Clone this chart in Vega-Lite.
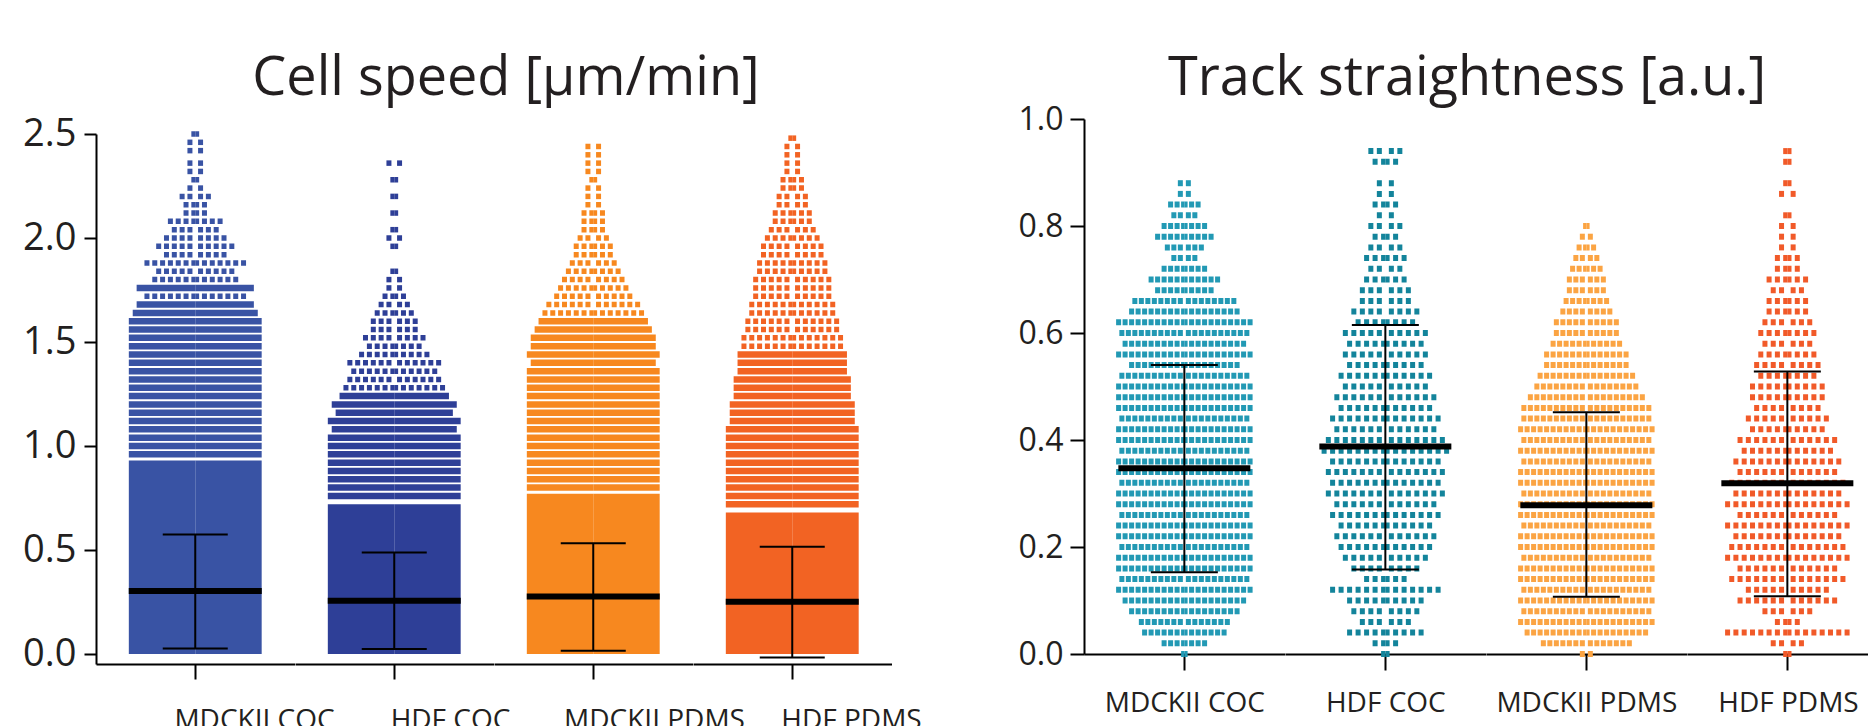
{
"$schema": "https://vega.github.io/schema/vega-lite/v6.json",
"autosize": {"type": "pad"},
"padding": {"left": 22, "top": 52, "right": 0, "bottom": -8},
"bounds": "flush",
"spacing": 0,
"resolve": {"scale": {"color": "independent"}},
"config": {"view": {"stroke": null}, "font": "Open Sans", "axis": {"grid": false, "domainColor": "#000", "tickColor": "#000", "domainWidth": 2, "tickWidth": 2, "labelColor": "#231F20", "labelFont": "Open Sans"}},
"datasets": {
"L": [
{"g":"MDCKII COC","k":"block","lo":0,"hi":0.93,"n":17},
{"g":"HDF COC","k":"block","lo":0,"hi":0.72,"n":17},
{"g":"MDCKII PDMS","k":"block","lo":0,"hi":0.77,"n":17},
{"g":"HDF PDMS","k":"block","lo":0,"hi":0.68,"n":17},
{"g":"MDCKII COC","k":"stat","v":0.303,"lo":0.027,"hi":0.575},
{"g":"HDF COC","k":"stat","v":0.256,"lo":0.024,"hi":0.488},
{"g":"MDCKII PDMS","k":"stat","v":0.277,"lo":0.016,"hi":0.532},
{"g":"HDF PDMS","k":"stat","v":0.251,"lo":-0.017,"hi":0.516},
{"g":"MDCKII COC","k":"row","v":0.96,"n":17},{"g":"MDCKII COC","k":"row","v":1.0,"n":17},{"g":"MDCKII COC","k":"row","v":1.04,"n":17},{"g":"MDCKII COC","k":"row","v":1.08,"n":17},{"g":"MDCKII COC","k":"row","v":1.12,"n":17},{"g":"MDCKII COC","k":"row","v":1.16,"n":17},{"g":"MDCKII COC","k":"row","v":1.2,"n":17},{"g":"MDCKII COC","k":"row","v":1.24,"n":17},{"g":"MDCKII COC","k":"row","v":1.28,"n":17},{"g":"MDCKII COC","k":"row","v":1.32,"n":17},{"g":"MDCKII COC","k":"row","v":1.36,"n":17},{"g":"MDCKII COC","k":"row","v":1.4,"n":17},{"g":"MDCKII COC","k":"row","v":1.44,"n":17},{"g":"MDCKII COC","k":"row","v":1.48,"n":17},{"g":"MDCKII COC","k":"row","v":1.52,"n":17},{"g":"MDCKII COC","k":"row","v":1.56,"n":17},{"g":"MDCKII COC","k":"row","v":1.6,"n":17},{"g":"MDCKII COC","k":"row","v":1.64,"n":16},{"g":"MDCKII COC","k":"row","v":1.68,"n":15},{"g":"MDCKII COC","k":"row","v":1.72,"n":13},{"g":"MDCKII COC","k":"row","v":1.76,"n":15},{"g":"MDCKII COC","k":"row","v":1.8,"n":11},{"g":"MDCKII COC","k":"row","v":1.84,"n":10},{"g":"MDCKII COC","k":"row","v":1.88,"n":13},{"g":"MDCKII COC","k":"row","v":1.92,"n":8},{"g":"MDCKII COC","k":"row","v":1.96,"n":10},{"g":"MDCKII COC","k":"row","v":2.0,"n":8},{"g":"MDCKII COC","k":"row","v":2.04,"n":6},{"g":"MDCKII COC","k":"row","v":2.08,"n":7},{"g":"MDCKII COC","k":"row","v":2.12,"n":3},{"g":"MDCKII COC","k":"row","v":2.16,"n":3},{"g":"MDCKII COC","k":"row","v":2.2,"n":4},{"g":"MDCKII COC","k":"row","v":2.24,"n":2},{"g":"MDCKII COC","k":"row","v":2.28,"n":1},{"g":"MDCKII COC","k":"row","v":2.32,"n":2},{"g":"MDCKII COC","k":"row","v":2.36,"n":2},{"g":"MDCKII COC","k":"row","v":2.42,"n":2},{"g":"MDCKII COC","k":"row","v":2.46,"n":2},{"g":"MDCKII COC","k":"row","v":2.5,"n":1},
{"g":"HDF COC","k":"row","v":0.76,"n":17},{"g":"HDF COC","k":"row","v":0.8,"n":17},{"g":"HDF COC","k":"row","v":0.84,"n":17},{"g":"HDF COC","k":"row","v":0.88,"n":17},{"g":"HDF COC","k":"row","v":0.92,"n":17},{"g":"HDF COC","k":"row","v":0.96,"n":17},{"g":"HDF COC","k":"row","v":1.0,"n":17},{"g":"HDF COC","k":"row","v":1.04,"n":17},{"g":"HDF COC","k":"row","v":1.08,"n":16},{"g":"HDF COC","k":"row","v":1.12,"n":17},{"g":"HDF COC","k":"row","v":1.16,"n":15},{"g":"HDF COC","k":"row","v":1.2,"n":16},{"g":"HDF COC","k":"row","v":1.24,"n":14},{"g":"HDF COC","k":"row","v":1.28,"n":13},{"g":"HDF COC","k":"row","v":1.32,"n":12},{"g":"HDF COC","k":"row","v":1.36,"n":11},{"g":"HDF COC","k":"row","v":1.4,"n":12},{"g":"HDF COC","k":"row","v":1.44,"n":9},{"g":"HDF COC","k":"row","v":1.48,"n":7},{"g":"HDF COC","k":"row","v":1.52,"n":8},{"g":"HDF COC","k":"row","v":1.56,"n":6},{"g":"HDF COC","k":"row","v":1.6,"n":6},{"g":"HDF COC","k":"row","v":1.64,"n":5},{"g":"HDF COC","k":"row","v":1.68,"n":4},{"g":"HDF COC","k":"row","v":1.72,"n":3},{"g":"HDF COC","k":"row","v":1.76,"n":2},{"g":"HDF COC","k":"row","v":1.8,"n":2},{"g":"HDF COC","k":"row","v":1.84,"n":1},{"g":"HDF COC","k":"row","v":1.96,"n":1},{"g":"HDF COC","k":"row","v":2.0,"n":2},{"g":"HDF COC","k":"row","v":2.04,"n":1},{"g":"HDF COC","k":"row","v":2.12,"n":1},{"g":"HDF COC","k":"row","v":2.2,"n":1},{"g":"HDF COC","k":"row","v":2.28,"n":1},{"g":"HDF COC","k":"row","v":2.36,"n":2},
{"g":"MDCKII PDMS","k":"row","v":0.8,"n":17},{"g":"MDCKII PDMS","k":"row","v":0.84,"n":17},{"g":"MDCKII PDMS","k":"row","v":0.88,"n":17},{"g":"MDCKII PDMS","k":"row","v":0.92,"n":17},{"g":"MDCKII PDMS","k":"row","v":0.96,"n":17},{"g":"MDCKII PDMS","k":"row","v":1.0,"n":17},{"g":"MDCKII PDMS","k":"row","v":1.04,"n":17},{"g":"MDCKII PDMS","k":"row","v":1.08,"n":17},{"g":"MDCKII PDMS","k":"row","v":1.12,"n":17},{"g":"MDCKII PDMS","k":"row","v":1.16,"n":17},{"g":"MDCKII PDMS","k":"row","v":1.2,"n":17},{"g":"MDCKII PDMS","k":"row","v":1.24,"n":17},{"g":"MDCKII PDMS","k":"row","v":1.28,"n":17},{"g":"MDCKII PDMS","k":"row","v":1.32,"n":17},{"g":"MDCKII PDMS","k":"row","v":1.36,"n":17},{"g":"MDCKII PDMS","k":"row","v":1.4,"n":16},{"g":"MDCKII PDMS","k":"row","v":1.44,"n":17},{"g":"MDCKII PDMS","k":"row","v":1.48,"n":16},{"g":"MDCKII PDMS","k":"row","v":1.52,"n":16},{"g":"MDCKII PDMS","k":"row","v":1.56,"n":15},{"g":"MDCKII PDMS","k":"row","v":1.6,"n":14},{"g":"MDCKII PDMS","k":"row","v":1.64,"n":13},{"g":"MDCKII PDMS","k":"row","v":1.68,"n":12},{"g":"MDCKII PDMS","k":"row","v":1.72,"n":10},{"g":"MDCKII PDMS","k":"row","v":1.76,"n":9},{"g":"MDCKII PDMS","k":"row","v":1.8,"n":8},{"g":"MDCKII PDMS","k":"row","v":1.84,"n":7},{"g":"MDCKII PDMS","k":"row","v":1.88,"n":6},{"g":"MDCKII PDMS","k":"row","v":1.92,"n":5},{"g":"MDCKII PDMS","k":"row","v":1.96,"n":5},{"g":"MDCKII PDMS","k":"row","v":2.0,"n":4},{"g":"MDCKII PDMS","k":"row","v":2.04,"n":3},{"g":"MDCKII PDMS","k":"row","v":2.08,"n":3},{"g":"MDCKII PDMS","k":"row","v":2.12,"n":3},{"g":"MDCKII PDMS","k":"row","v":2.16,"n":2},{"g":"MDCKII PDMS","k":"row","v":2.2,"n":2},{"g":"MDCKII PDMS","k":"row","v":2.24,"n":2},{"g":"MDCKII PDMS","k":"row","v":2.28,"n":1},{"g":"MDCKII PDMS","k":"row","v":2.32,"n":2},{"g":"MDCKII PDMS","k":"row","v":2.36,"n":2},{"g":"MDCKII PDMS","k":"row","v":2.4,"n":2},{"g":"MDCKII PDMS","k":"row","v":2.44,"n":2},
{"g":"HDF PDMS","k":"row","v":0.72,"n":17},{"g":"HDF PDMS","k":"row","v":0.76,"n":17},{"g":"HDF PDMS","k":"row","v":0.8,"n":17},{"g":"HDF PDMS","k":"row","v":0.84,"n":17},{"g":"HDF PDMS","k":"row","v":0.88,"n":17},{"g":"HDF PDMS","k":"row","v":0.92,"n":17},{"g":"HDF PDMS","k":"row","v":0.96,"n":17},{"g":"HDF PDMS","k":"row","v":1.0,"n":17},{"g":"HDF PDMS","k":"row","v":1.04,"n":17},{"g":"HDF PDMS","k":"row","v":1.08,"n":17},{"g":"HDF PDMS","k":"row","v":1.12,"n":16},{"g":"HDF PDMS","k":"row","v":1.16,"n":16},{"g":"HDF PDMS","k":"row","v":1.2,"n":16},{"g":"HDF PDMS","k":"row","v":1.24,"n":15},{"g":"HDF PDMS","k":"row","v":1.28,"n":15},{"g":"HDF PDMS","k":"row","v":1.32,"n":15},{"g":"HDF PDMS","k":"row","v":1.36,"n":14},{"g":"HDF PDMS","k":"row","v":1.4,"n":14},{"g":"HDF PDMS","k":"row","v":1.44,"n":14},{"g":"HDF PDMS","k":"row","v":1.48,"n":13},{"g":"HDF PDMS","k":"row","v":1.52,"n":13},{"g":"HDF PDMS","k":"row","v":1.56,"n":12},{"g":"HDF PDMS","k":"row","v":1.6,"n":12},{"g":"HDF PDMS","k":"row","v":1.64,"n":11},{"g":"HDF PDMS","k":"row","v":1.68,"n":11},{"g":"HDF PDMS","k":"row","v":1.72,"n":10},{"g":"HDF PDMS","k":"row","v":1.76,"n":10},{"g":"HDF PDMS","k":"row","v":1.8,"n":10},{"g":"HDF PDMS","k":"row","v":1.84,"n":9},{"g":"HDF PDMS","k":"row","v":1.88,"n":9},{"g":"HDF PDMS","k":"row","v":1.92,"n":8},{"g":"HDF PDMS","k":"row","v":1.96,"n":8},{"g":"HDF PDMS","k":"row","v":2.0,"n":7},{"g":"HDF PDMS","k":"row","v":2.04,"n":6},{"g":"HDF PDMS","k":"row","v":2.08,"n":5},{"g":"HDF PDMS","k":"row","v":2.12,"n":5},{"g":"HDF PDMS","k":"row","v":2.16,"n":4},{"g":"HDF PDMS","k":"row","v":2.2,"n":4},{"g":"HDF PDMS","k":"row","v":2.24,"n":3},{"g":"HDF PDMS","k":"row","v":2.28,"n":3},{"g":"HDF PDMS","k":"row","v":2.32,"n":2},{"g":"HDF PDMS","k":"row","v":2.36,"n":2},{"g":"HDF PDMS","k":"row","v":2.4,"n":2},{"g":"HDF PDMS","k":"row","v":2.44,"n":2},{"g":"HDF PDMS","k":"row","v":2.48,"n":1}
],
"R": [
{"g":"MDCKII COC","k":"stat","v":0.347,"lo":0.153,"hi":0.54},
{"g":"HDF COC","k":"stat","v":0.388,"lo":0.158,"hi":0.615},
{"g":"MDCKII PDMS","k":"stat","v":0.278,"lo":0.107,"hi":0.452},
{"g":"HDF PDMS","k":"stat","v":0.319,"lo":0.108,"hi":0.528},
{"g":"MDCKII COC","k":"row","v":0.0,"n":1},{"g":"MDCKII COC","k":"row","v":0.02,"n":7},{"g":"MDCKII COC","k":"row","v":0.04,"n":13},{"g":"MDCKII COC","k":"row","v":0.06,"n":14},{"g":"MDCKII COC","k":"row","v":0.08,"n":17},{"g":"MDCKII COC","k":"row","v":0.1,"n":19},{"g":"MDCKII COC","k":"row","v":0.12,"n":21},{"g":"MDCKII COC","k":"row","v":0.14,"n":20},{"g":"MDCKII COC","k":"row","v":0.16,"n":21},{"g":"MDCKII COC","k":"row","v":0.18,"n":21},{"g":"MDCKII COC","k":"row","v":0.2,"n":20},{"g":"MDCKII COC","k":"row","v":0.22,"n":21},{"g":"MDCKII COC","k":"row","v":0.24,"n":21},{"g":"MDCKII COC","k":"row","v":0.26,"n":20},{"g":"MDCKII COC","k":"row","v":0.28,"n":21},{"g":"MDCKII COC","k":"row","v":0.3,"n":21},{"g":"MDCKII COC","k":"row","v":0.32,"n":20},{"g":"MDCKII COC","k":"row","v":0.34,"n":21},{"g":"MDCKII COC","k":"row","v":0.36,"n":21},{"g":"MDCKII COC","k":"row","v":0.38,"n":20},{"g":"MDCKII COC","k":"row","v":0.4,"n":21},{"g":"MDCKII COC","k":"row","v":0.42,"n":21},{"g":"MDCKII COC","k":"row","v":0.44,"n":20},{"g":"MDCKII COC","k":"row","v":0.46,"n":21},{"g":"MDCKII COC","k":"row","v":0.48,"n":21},{"g":"MDCKII COC","k":"row","v":0.5,"n":21},{"g":"MDCKII COC","k":"row","v":0.52,"n":20},{"g":"MDCKII COC","k":"row","v":0.54,"n":17},{"g":"MDCKII COC","k":"row","v":0.56,"n":21},{"g":"MDCKII COC","k":"row","v":0.58,"n":19},{"g":"MDCKII COC","k":"row","v":0.6,"n":20},{"g":"MDCKII COC","k":"row","v":0.62,"n":21},{"g":"MDCKII COC","k":"row","v":0.64,"n":17},{"g":"MDCKII COC","k":"row","v":0.66,"n":16},{"g":"MDCKII COC","k":"row","v":0.68,"n":9},{"g":"MDCKII COC","k":"row","v":0.7,"n":11},{"g":"MDCKII COC","k":"row","v":0.72,"n":7},{"g":"MDCKII COC","k":"row","v":0.74,"n":4},{"g":"MDCKII COC","k":"row","v":0.76,"n":6},{"g":"MDCKII COC","k":"row","v":0.78,"n":9},{"g":"MDCKII COC","k":"row","v":0.8,"n":7},{"g":"MDCKII COC","k":"row","v":0.82,"n":4},{"g":"MDCKII COC","k":"row","v":0.84,"n":5},{"g":"MDCKII COC","k":"row","v":0.86,"n":2},{"g":"MDCKII COC","k":"row","v":0.88,"n":2},
{"g":"HDF COC","k":"row","v":0.0,"n":1},{"g":"HDF COC","k":"row","v":0.02,"n":3},{"g":"HDF COC","k":"row","v":0.04,"n":9},{"g":"HDF COC","k":"row","v":0.06,"n":6},{"g":"HDF COC","k":"row","v":0.08,"n":8},{"g":"HDF COC","k":"row","v":0.1,"n":9},{"g":"HDF COC","k":"row","v":0.12,"n":13},{"g":"HDF COC","k":"row","v":0.14,"n":5},{"g":"HDF COC","k":"row","v":0.16,"n":8},{"g":"HDF COC","k":"row","v":0.18,"n":10},{"g":"HDF COC","k":"row","v":0.2,"n":11},{"g":"HDF COC","k":"row","v":0.22,"n":12},{"g":"HDF COC","k":"row","v":0.24,"n":11},{"g":"HDF COC","k":"row","v":0.26,"n":13},{"g":"HDF COC","k":"row","v":0.28,"n":12},{"g":"HDF COC","k":"row","v":0.3,"n":14},{"g":"HDF COC","k":"row","v":0.32,"n":13},{"g":"HDF COC","k":"row","v":0.34,"n":14},{"g":"HDF COC","k":"row","v":0.36,"n":13},{"g":"HDF COC","k":"row","v":0.38,"n":15},{"g":"HDF COC","k":"row","v":0.4,"n":14},{"g":"HDF COC","k":"row","v":0.42,"n":12},{"g":"HDF COC","k":"row","v":0.44,"n":13},{"g":"HDF COC","k":"row","v":0.46,"n":11},{"g":"HDF COC","k":"row","v":0.48,"n":12},{"g":"HDF COC","k":"row","v":0.5,"n":10},{"g":"HDF COC","k":"row","v":0.52,"n":11},{"g":"HDF COC","k":"row","v":0.54,"n":9},{"g":"HDF COC","k":"row","v":0.56,"n":10},{"g":"HDF COC","k":"row","v":0.58,"n":9},{"g":"HDF COC","k":"row","v":0.6,"n":10},{"g":"HDF COC","k":"row","v":0.62,"n":7},{"g":"HDF COC","k":"row","v":0.64,"n":8},{"g":"HDF COC","k":"row","v":0.66,"n":6},{"g":"HDF COC","k":"row","v":0.68,"n":6},{"g":"HDF COC","k":"row","v":0.7,"n":5},{"g":"HDF COC","k":"row","v":0.72,"n":4},{"g":"HDF COC","k":"row","v":0.74,"n":5},{"g":"HDF COC","k":"row","v":0.76,"n":4},{"g":"HDF COC","k":"row","v":0.78,"n":3},{"g":"HDF COC","k":"row","v":0.8,"n":4},{"g":"HDF COC","k":"row","v":0.82,"n":2},{"g":"HDF COC","k":"row","v":0.84,"n":3},{"g":"HDF COC","k":"row","v":0.86,"n":2},{"g":"HDF COC","k":"row","v":0.88,"n":2},{"g":"HDF COC","k":"row","v":0.92,"n":3},{"g":"HDF COC","k":"row","v":0.94,"n":4},
{"g":"MDCKII PDMS","k":"row","v":0.0,"n":2},{"g":"MDCKII PDMS","k":"row","v":0.02,"n":14},{"g":"MDCKII PDMS","k":"row","v":0.04,"n":19},{"g":"MDCKII PDMS","k":"row","v":0.06,"n":21},{"g":"MDCKII PDMS","k":"row","v":0.08,"n":20},{"g":"MDCKII PDMS","k":"row","v":0.1,"n":21},{"g":"MDCKII PDMS","k":"row","v":0.12,"n":20},{"g":"MDCKII PDMS","k":"row","v":0.14,"n":21},{"g":"MDCKII PDMS","k":"row","v":0.16,"n":21},{"g":"MDCKII PDMS","k":"row","v":0.18,"n":20},{"g":"MDCKII PDMS","k":"row","v":0.2,"n":21},{"g":"MDCKII PDMS","k":"row","v":0.22,"n":21},{"g":"MDCKII PDMS","k":"row","v":0.24,"n":20},{"g":"MDCKII PDMS","k":"row","v":0.26,"n":21},{"g":"MDCKII PDMS","k":"row","v":0.28,"n":21},{"g":"MDCKII PDMS","k":"row","v":0.3,"n":20},{"g":"MDCKII PDMS","k":"row","v":0.32,"n":21},{"g":"MDCKII PDMS","k":"row","v":0.34,"n":21},{"g":"MDCKII PDMS","k":"row","v":0.36,"n":20},{"g":"MDCKII PDMS","k":"row","v":0.38,"n":21},{"g":"MDCKII PDMS","k":"row","v":0.4,"n":20},{"g":"MDCKII PDMS","k":"row","v":0.42,"n":21},{"g":"MDCKII PDMS","k":"row","v":0.44,"n":20},{"g":"MDCKII PDMS","k":"row","v":0.46,"n":20},{"g":"MDCKII PDMS","k":"row","v":0.48,"n":18},{"g":"MDCKII PDMS","k":"row","v":0.5,"n":16},{"g":"MDCKII PDMS","k":"row","v":0.52,"n":15},{"g":"MDCKII PDMS","k":"row","v":0.54,"n":13},{"g":"MDCKII PDMS","k":"row","v":0.56,"n":13},{"g":"MDCKII PDMS","k":"row","v":0.58,"n":11},{"g":"MDCKII PDMS","k":"row","v":0.6,"n":10},{"g":"MDCKII PDMS","k":"row","v":0.62,"n":10},{"g":"MDCKII PDMS","k":"row","v":0.64,"n":8},{"g":"MDCKII PDMS","k":"row","v":0.66,"n":7},{"g":"MDCKII PDMS","k":"row","v":0.68,"n":6},{"g":"MDCKII PDMS","k":"row","v":0.7,"n":6},{"g":"MDCKII PDMS","k":"row","v":0.72,"n":5},{"g":"MDCKII PDMS","k":"row","v":0.74,"n":4},{"g":"MDCKII PDMS","k":"row","v":0.76,"n":3},{"g":"MDCKII PDMS","k":"row","v":0.78,"n":2},{"g":"MDCKII PDMS","k":"row","v":0.8,"n":1},
{"g":"HDF PDMS","k":"row","v":0.0,"n":1},{"g":"HDF PDMS","k":"row","v":0.02,"n":4},{"g":"HDF PDMS","k":"row","v":0.04,"n":15},{"g":"HDF PDMS","k":"row","v":0.06,"n":3},{"g":"HDF PDMS","k":"row","v":0.08,"n":6},{"g":"HDF PDMS","k":"row","v":0.1,"n":12},{"g":"HDF PDMS","k":"row","v":0.12,"n":10},{"g":"HDF PDMS","k":"row","v":0.14,"n":14},{"g":"HDF PDMS","k":"row","v":0.16,"n":12},{"g":"HDF PDMS","k":"row","v":0.18,"n":15},{"g":"HDF PDMS","k":"row","v":0.2,"n":14},{"g":"HDF PDMS","k":"row","v":0.22,"n":13},{"g":"HDF PDMS","k":"row","v":0.24,"n":15},{"g":"HDF PDMS","k":"row","v":0.26,"n":12},{"g":"HDF PDMS","k":"row","v":0.28,"n":15},{"g":"HDF PDMS","k":"row","v":0.3,"n":13},{"g":"HDF PDMS","k":"row","v":0.32,"n":14},{"g":"HDF PDMS","k":"row","v":0.34,"n":12},{"g":"HDF PDMS","k":"row","v":0.36,"n":13},{"g":"HDF PDMS","k":"row","v":0.38,"n":11},{"g":"HDF PDMS","k":"row","v":0.4,"n":12},{"g":"HDF PDMS","k":"row","v":0.42,"n":9},{"g":"HDF PDMS","k":"row","v":0.44,"n":10},{"g":"HDF PDMS","k":"row","v":0.46,"n":8},{"g":"HDF PDMS","k":"row","v":0.48,"n":9},{"g":"HDF PDMS","k":"row","v":0.5,"n":9},{"g":"HDF PDMS","k":"row","v":0.52,"n":7},{"g":"HDF PDMS","k":"row","v":0.54,"n":8},{"g":"HDF PDMS","k":"row","v":0.56,"n":7},{"g":"HDF PDMS","k":"row","v":0.58,"n":6},{"g":"HDF PDMS","k":"row","v":0.6,"n":7},{"g":"HDF PDMS","k":"row","v":0.62,"n":6},{"g":"HDF PDMS","k":"row","v":0.64,"n":5},{"g":"HDF PDMS","k":"row","v":0.66,"n":5},{"g":"HDF PDMS","k":"row","v":0.68,"n":4},{"g":"HDF PDMS","k":"row","v":0.7,"n":5},{"g":"HDF PDMS","k":"row","v":0.72,"n":3},{"g":"HDF PDMS","k":"row","v":0.74,"n":3},{"g":"HDF PDMS","k":"row","v":0.76,"n":2},{"g":"HDF PDMS","k":"row","v":0.78,"n":2},{"g":"HDF PDMS","k":"row","v":0.8,"n":2},{"g":"HDF PDMS","k":"row","v":0.82,"n":1},{"g":"HDF PDMS","k":"row","v":0.86,"n":2},{"g":"HDF PDMS","k":"row","v":0.88,"n":1},{"g":"HDF PDMS","k":"row","v":0.92,"n":1},{"g":"HDF PDMS","k":"row","v":0.94,"n":1}
]
},
"hconcat": [
 {"data": {"name": "L"}, "transform": [{"filter": "datum.g == 'MDCKII COC'"}], "width": 198.5, "height": 545, "resolve": {"scale": {"x": "independent"}},
  "title": {"text": "Cell speed [µm/min]", "font": "Open Sans", "fontSize": 54, "fontWeight": "normal", "color": "#231F20", "frame": "group", "anchor": "start", "align": "center", "baseline": "alphabetic", "offset": -34, "dx": 410},
  "layer": [
  {"transform": [{"filter": "datum.k == 'block'"}], "mark": {"type": "rect"}, "encoding": {"x": {"field": "n", "type": "quantitative", "scale": {"domain": [-25.4, 25.4], "nice": false, "zero": false}, "axis": {"values": [0], "labels": false, "tickSize": 15, "title": "MDCKII COC", "titleFont": "Open Sans", "titleFontSize": 28, "titleFontWeight": "normal", "titleColor": "#231F20", "titlePadding": 26, "titleX": 158, "titleAlign": "center"}}, "x2": {"datum": 0}, "y": {"field": "lo", "type": "quantitative", "scale": {"domain": [-0.048, 2.5], "range": [545, 15], "nice": false, "zero": false}, "axis": {"values": [0, 0.5, 1, 1.5, 2, 2.5], "format": ".1f", "labelFontSize": 38, "tickSize": 12, "labelPadding": 8, "title": null}}, "y2": {"field": "hi"}, "color": {"field": "g", "type": "nominal", "scale": {"domain": ["MDCKII COC","HDF COC","MDCKII PDMS","HDF PDMS"], "range": ["#3953A4","#2E3F97","#F7881F","#F26323"]}, "legend": null}}},
  {"transform": [{"filter": "datum.k == 'block'"}], "mark": {"type": "rect"}, "encoding": {"x": {"field": "n", "type": "quantitative", "scale": {"domain": [-25.4, 25.4], "nice": false, "zero": false, "reverse": true}, "axis": null}, "x2": {"datum": 0}, "y": {"field": "lo", "type": "quantitative", "axis": {"title": null}}, "y2": {"field": "hi"}, "color": {"field": "g", "type": "nominal", "legend": null}}},
  {"transform": [{"filter": "datum.k == 'row' && datum.n >= 14"}], "mark": {"type": "rule", "strokeWidth": 6.5}, "encoding": {"x": {"field": "n", "type": "quantitative", "scale": {"domain": [-25.4, 25.4], "nice": false, "zero": false}, "axis": null}, "x2": {"datum": 0}, "y": {"field": "v", "type": "quantitative", "axis": {"title": null}}, "color": {"field": "g", "type": "nominal", "legend": null}}},
  {"transform": [{"filter": "datum.k == 'row' && datum.n >= 14"}], "mark": {"type": "rule", "strokeWidth": 6.5}, "encoding": {"x": {"field": "n", "type": "quantitative", "scale": {"domain": [-25.4, 25.4], "nice": false, "zero": false, "reverse": true}, "axis": null}, "x2": {"datum": 0}, "y": {"field": "v", "type": "quantitative", "axis": {"title": null}}, "color": {"field": "g", "type": "nominal", "legend": null}}},
  {"transform": [{"filter": "datum.k == 'row' && datum.n < 14"}], "mark": {"type": "rule", "strokeWidth": 5.5, "strokeDash": [5, 2.82]}, "encoding": {"x": {"field": "n", "type": "quantitative", "scale": {"domain": [-25.4, 25.4], "nice": false, "zero": false}, "axis": null}, "x2": {"datum": 0}, "y": {"field": "v", "type": "quantitative", "axis": {"title": null}}, "color": {"field": "g", "type": "nominal", "legend": null}}},
  {"transform": [{"filter": "datum.k == 'row' && datum.n < 14"}], "mark": {"type": "rule", "strokeWidth": 5.5, "strokeDash": [5, 2.82]}, "encoding": {"x": {"field": "n", "type": "quantitative", "scale": {"domain": [-25.4, 25.4], "nice": false, "zero": false, "reverse": true}, "axis": null}, "x2": {"datum": 0}, "y": {"field": "v", "type": "quantitative", "axis": {"title": null}}, "color": {"field": "g", "type": "nominal", "legend": null}}},
  {"transform": [{"filter": "datum.k == 'stat'"}], "mark": {"type": "rule", "strokeWidth": 2, "color": "#000"}, "encoding": {"y": {"field": "lo", "type": "quantitative", "axis": {"title": null}}, "y2": {"field": "hi"}}},
  {"transform": [{"filter": "datum.k == 'stat'"}], "mark": {"type": "tick", "size": 65, "thickness": 2, "color": "#000", "opacity": 1}, "encoding": {"y": {"field": "lo", "type": "quantitative", "axis": {"title": null}}}},
  {"transform": [{"filter": "datum.k == 'stat'"}], "mark": {"type": "tick", "size": 65, "thickness": 2, "color": "#000", "opacity": 1}, "encoding": {"y": {"field": "hi", "type": "quantitative", "axis": {"title": null}}}},
  {"transform": [{"filter": "datum.k == 'stat'"}], "mark": {"type": "tick", "size": 133, "thickness": 6, "color": "#000", "opacity": 1}, "encoding": {"y": {"field": "v", "type": "quantitative", "axis": {"title": null}}}}
  ]},
 {"data": {"name": "L"}, "transform": [{"filter": "datum.g == 'HDF COC'"}], "width": 198.5, "height": 545, "resolve": {"scale": {"x": "independent"}},
  "layer": [
  {"transform": [{"filter": "datum.k == 'block'"}], "mark": {"type": "rect"}, "encoding": {"x": {"field": "n", "type": "quantitative", "scale": {"domain": [-25.4, 25.4], "nice": false, "zero": false}, "axis": {"values": [0], "labels": false, "tickSize": 15, "title": "HDF COC", "titleFont": "Open Sans", "titleFontSize": 28, "titleFontWeight": "normal", "titleColor": "#231F20", "titlePadding": 26, "titleX": 155, "titleAlign": "center"}}, "x2": {"datum": 0}, "y": {"field": "lo", "type": "quantitative", "scale": {"domain": [-0.048, 2.5], "range": [545, 15], "nice": false, "zero": false}, "axis": null}, "y2": {"field": "hi"}, "color": {"field": "g", "type": "nominal", "scale": {"domain": ["MDCKII COC","HDF COC","MDCKII PDMS","HDF PDMS"], "range": ["#3953A4","#2E3F97","#F7881F","#F26323"]}, "legend": null}}},
  {"transform": [{"filter": "datum.k == 'block'"}], "mark": {"type": "rect"}, "encoding": {"x": {"field": "n", "type": "quantitative", "scale": {"domain": [-25.4, 25.4], "nice": false, "zero": false, "reverse": true}, "axis": null}, "x2": {"datum": 0}, "y": {"field": "lo", "type": "quantitative", "axis": null}, "y2": {"field": "hi"}, "color": {"field": "g", "type": "nominal", "legend": null}}},
  {"transform": [{"filter": "datum.k == 'row' && datum.n >= 14"}], "mark": {"type": "rule", "strokeWidth": 6.5}, "encoding": {"x": {"field": "n", "type": "quantitative", "scale": {"domain": [-25.4, 25.4], "nice": false, "zero": false}, "axis": null}, "x2": {"datum": 0}, "y": {"field": "v", "type": "quantitative", "axis": null}, "color": {"field": "g", "type": "nominal", "legend": null}}},
  {"transform": [{"filter": "datum.k == 'row' && datum.n >= 14"}], "mark": {"type": "rule", "strokeWidth": 6.5}, "encoding": {"x": {"field": "n", "type": "quantitative", "scale": {"domain": [-25.4, 25.4], "nice": false, "zero": false, "reverse": true}, "axis": null}, "x2": {"datum": 0}, "y": {"field": "v", "type": "quantitative", "axis": null}, "color": {"field": "g", "type": "nominal", "legend": null}}},
  {"transform": [{"filter": "datum.k == 'row' && datum.n < 14"}], "mark": {"type": "rule", "strokeWidth": 5.5, "strokeDash": [5, 2.82]}, "encoding": {"x": {"field": "n", "type": "quantitative", "scale": {"domain": [-25.4, 25.4], "nice": false, "zero": false}, "axis": null}, "x2": {"datum": 0}, "y": {"field": "v", "type": "quantitative", "axis": null}, "color": {"field": "g", "type": "nominal", "legend": null}}},
  {"transform": [{"filter": "datum.k == 'row' && datum.n < 14"}], "mark": {"type": "rule", "strokeWidth": 5.5, "strokeDash": [5, 2.82]}, "encoding": {"x": {"field": "n", "type": "quantitative", "scale": {"domain": [-25.4, 25.4], "nice": false, "zero": false, "reverse": true}, "axis": null}, "x2": {"datum": 0}, "y": {"field": "v", "type": "quantitative", "axis": null}, "color": {"field": "g", "type": "nominal", "legend": null}}},
  {"transform": [{"filter": "datum.k == 'stat'"}], "mark": {"type": "rule", "strokeWidth": 2, "color": "#000"}, "encoding": {"y": {"field": "lo", "type": "quantitative", "axis": null}, "y2": {"field": "hi"}}},
  {"transform": [{"filter": "datum.k == 'stat'"}], "mark": {"type": "tick", "size": 65, "thickness": 2, "color": "#000", "opacity": 1}, "encoding": {"y": {"field": "lo", "type": "quantitative", "axis": null}}},
  {"transform": [{"filter": "datum.k == 'stat'"}], "mark": {"type": "tick", "size": 65, "thickness": 2, "color": "#000", "opacity": 1}, "encoding": {"y": {"field": "hi", "type": "quantitative", "axis": null}}},
  {"transform": [{"filter": "datum.k == 'stat'"}], "mark": {"type": "tick", "size": 133, "thickness": 6, "color": "#000", "opacity": 1}, "encoding": {"y": {"field": "v", "type": "quantitative", "axis": null}}}
  ]},
 {"data": {"name": "L"}, "transform": [{"filter": "datum.g == 'MDCKII PDMS'"}], "width": 198.5, "height": 545, "resolve": {"scale": {"x": "independent"}},
  "layer": [
  {"transform": [{"filter": "datum.k == 'block'"}], "mark": {"type": "rect"}, "encoding": {"x": {"field": "n", "type": "quantitative", "scale": {"domain": [-25.4, 25.4], "nice": false, "zero": false}, "axis": {"values": [0], "labels": false, "tickSize": 15, "title": "MDCKII PDMS", "titleFont": "Open Sans", "titleFontSize": 28, "titleFontWeight": "normal", "titleColor": "#231F20", "titlePadding": 26, "titleX": 160, "titleAlign": "center"}}, "x2": {"datum": 0}, "y": {"field": "lo", "type": "quantitative", "scale": {"domain": [-0.048, 2.5], "range": [545, 15], "nice": false, "zero": false}, "axis": null}, "y2": {"field": "hi"}, "color": {"field": "g", "type": "nominal", "scale": {"domain": ["MDCKII COC","HDF COC","MDCKII PDMS","HDF PDMS"], "range": ["#3953A4","#2E3F97","#F7881F","#F26323"]}, "legend": null}}},
  {"transform": [{"filter": "datum.k == 'block'"}], "mark": {"type": "rect"}, "encoding": {"x": {"field": "n", "type": "quantitative", "scale": {"domain": [-25.4, 25.4], "nice": false, "zero": false, "reverse": true}, "axis": null}, "x2": {"datum": 0}, "y": {"field": "lo", "type": "quantitative", "axis": null}, "y2": {"field": "hi"}, "color": {"field": "g", "type": "nominal", "legend": null}}},
  {"transform": [{"filter": "datum.k == 'row' && datum.n >= 14"}], "mark": {"type": "rule", "strokeWidth": 6.5}, "encoding": {"x": {"field": "n", "type": "quantitative", "scale": {"domain": [-25.4, 25.4], "nice": false, "zero": false}, "axis": null}, "x2": {"datum": 0}, "y": {"field": "v", "type": "quantitative", "axis": null}, "color": {"field": "g", "type": "nominal", "legend": null}}},
  {"transform": [{"filter": "datum.k == 'row' && datum.n >= 14"}], "mark": {"type": "rule", "strokeWidth": 6.5}, "encoding": {"x": {"field": "n", "type": "quantitative", "scale": {"domain": [-25.4, 25.4], "nice": false, "zero": false, "reverse": true}, "axis": null}, "x2": {"datum": 0}, "y": {"field": "v", "type": "quantitative", "axis": null}, "color": {"field": "g", "type": "nominal", "legend": null}}},
  {"transform": [{"filter": "datum.k == 'row' && datum.n < 14"}], "mark": {"type": "rule", "strokeWidth": 5.5, "strokeDash": [5, 2.82]}, "encoding": {"x": {"field": "n", "type": "quantitative", "scale": {"domain": [-25.4, 25.4], "nice": false, "zero": false}, "axis": null}, "x2": {"datum": 0}, "y": {"field": "v", "type": "quantitative", "axis": null}, "color": {"field": "g", "type": "nominal", "legend": null}}},
  {"transform": [{"filter": "datum.k == 'row' && datum.n < 14"}], "mark": {"type": "rule", "strokeWidth": 5.5, "strokeDash": [5, 2.82]}, "encoding": {"x": {"field": "n", "type": "quantitative", "scale": {"domain": [-25.4, 25.4], "nice": false, "zero": false, "reverse": true}, "axis": null}, "x2": {"datum": 0}, "y": {"field": "v", "type": "quantitative", "axis": null}, "color": {"field": "g", "type": "nominal", "legend": null}}},
  {"transform": [{"filter": "datum.k == 'stat'"}], "mark": {"type": "rule", "strokeWidth": 2, "color": "#000"}, "encoding": {"y": {"field": "lo", "type": "quantitative", "axis": null}, "y2": {"field": "hi"}}},
  {"transform": [{"filter": "datum.k == 'stat'"}], "mark": {"type": "tick", "size": 65, "thickness": 2, "color": "#000", "opacity": 1}, "encoding": {"y": {"field": "lo", "type": "quantitative", "axis": null}}},
  {"transform": [{"filter": "datum.k == 'stat'"}], "mark": {"type": "tick", "size": 65, "thickness": 2, "color": "#000", "opacity": 1}, "encoding": {"y": {"field": "hi", "type": "quantitative", "axis": null}}},
  {"transform": [{"filter": "datum.k == 'stat'"}], "mark": {"type": "tick", "size": 133, "thickness": 6, "color": "#000", "opacity": 1}, "encoding": {"y": {"field": "v", "type": "quantitative", "axis": null}}}
  ]},
 {"data": {"name": "L"}, "transform": [{"filter": "datum.g == 'HDF PDMS'"}], "width": 198.5, "height": 545, "resolve": {"scale": {"x": "independent"}},
  "layer": [
  {"transform": [{"filter": "datum.k == 'block'"}], "mark": {"type": "rect"}, "encoding": {"x": {"field": "n", "type": "quantitative", "scale": {"domain": [-25.4, 25.4], "nice": false, "zero": false}, "axis": {"values": [0], "labels": false, "tickSize": 15, "title": "HDF PDMS", "titleFont": "Open Sans", "titleFontSize": 28, "titleFontWeight": "normal", "titleColor": "#231F20", "titlePadding": 26, "titleX": 158, "titleAlign": "center"}}, "x2": {"datum": 0}, "y": {"field": "lo", "type": "quantitative", "scale": {"domain": [-0.048, 2.5], "range": [545, 15], "nice": false, "zero": false}, "axis": null}, "y2": {"field": "hi"}, "color": {"field": "g", "type": "nominal", "scale": {"domain": ["MDCKII COC","HDF COC","MDCKII PDMS","HDF PDMS"], "range": ["#3953A4","#2E3F97","#F7881F","#F26323"]}, "legend": null}}},
  {"transform": [{"filter": "datum.k == 'block'"}], "mark": {"type": "rect"}, "encoding": {"x": {"field": "n", "type": "quantitative", "scale": {"domain": [-25.4, 25.4], "nice": false, "zero": false, "reverse": true}, "axis": null}, "x2": {"datum": 0}, "y": {"field": "lo", "type": "quantitative", "axis": null}, "y2": {"field": "hi"}, "color": {"field": "g", "type": "nominal", "legend": null}}},
  {"transform": [{"filter": "datum.k == 'row' && datum.n >= 14"}], "mark": {"type": "rule", "strokeWidth": 6.5}, "encoding": {"x": {"field": "n", "type": "quantitative", "scale": {"domain": [-25.4, 25.4], "nice": false, "zero": false}, "axis": null}, "x2": {"datum": 0}, "y": {"field": "v", "type": "quantitative", "axis": null}, "color": {"field": "g", "type": "nominal", "legend": null}}},
  {"transform": [{"filter": "datum.k == 'row' && datum.n >= 14"}], "mark": {"type": "rule", "strokeWidth": 6.5}, "encoding": {"x": {"field": "n", "type": "quantitative", "scale": {"domain": [-25.4, 25.4], "nice": false, "zero": false, "reverse": true}, "axis": null}, "x2": {"datum": 0}, "y": {"field": "v", "type": "quantitative", "axis": null}, "color": {"field": "g", "type": "nominal", "legend": null}}},
  {"transform": [{"filter": "datum.k == 'row' && datum.n < 14"}], "mark": {"type": "rule", "strokeWidth": 5.5, "strokeDash": [5, 2.82]}, "encoding": {"x": {"field": "n", "type": "quantitative", "scale": {"domain": [-25.4, 25.4], "nice": false, "zero": false}, "axis": null}, "x2": {"datum": 0}, "y": {"field": "v", "type": "quantitative", "axis": null}, "color": {"field": "g", "type": "nominal", "legend": null}}},
  {"transform": [{"filter": "datum.k == 'row' && datum.n < 14"}], "mark": {"type": "rule", "strokeWidth": 5.5, "strokeDash": [5, 2.82]}, "encoding": {"x": {"field": "n", "type": "quantitative", "scale": {"domain": [-25.4, 25.4], "nice": false, "zero": false, "reverse": true}, "axis": null}, "x2": {"datum": 0}, "y": {"field": "v", "type": "quantitative", "axis": null}, "color": {"field": "g", "type": "nominal", "legend": null}}},
  {"transform": [{"filter": "datum.k == 'stat'"}], "mark": {"type": "rule", "strokeWidth": 2, "color": "#000"}, "encoding": {"y": {"field": "lo", "type": "quantitative", "axis": null}, "y2": {"field": "hi"}}},
  {"transform": [{"filter": "datum.k == 'stat'"}], "mark": {"type": "tick", "size": 65, "thickness": 2, "color": "#000", "opacity": 1}, "encoding": {"y": {"field": "lo", "type": "quantitative", "axis": null}}},
  {"transform": [{"filter": "datum.k == 'stat'"}], "mark": {"type": "tick", "size": 65, "thickness": 2, "color": "#000", "opacity": 1}, "encoding": {"y": {"field": "hi", "type": "quantitative", "axis": null}}},
  {"transform": [{"filter": "datum.k == 'stat'"}], "mark": {"type": "tick", "size": 133, "thickness": 6, "color": "#000", "opacity": 1}, "encoding": {"y": {"field": "v", "type": "quantitative", "axis": null}}}
  ]},
 {"data": {"values": []}, "width": 192, "height": 535, "mark": {"type": "point"}, "encoding": {}},
 {"data": {"name": "R"}, "transform": [{"filter": "datum.g == 'MDCKII COC'"}], "width": 200.7, "height": 535, "resolve": {"scale": {"x": "independent"}},
  "title": {"text": "Track straightness [a.u.]", "font": "Open Sans", "fontSize": 54, "fontWeight": "normal", "color": "#231F20", "frame": "group", "anchor": "start", "align": "center", "baseline": "alphabetic", "offset": -46, "dx": 383},
  "layer": [
  {"transform": [{"filter": "datum.k == 'row'"}], "mark": {"type": "rule", "strokeWidth": 6, "strokeDash": [5, 1.5]}, "encoding": {"x": {"field": "n", "type": "quantitative", "scale": {"domain": [-30.88, 30.88], "nice": false, "zero": false}, "axis": {"values": [0], "labels": false, "tickSize": 16, "title": "MDCKII COC", "titleFont": "Open Sans", "titleFontSize": 28, "titleFontWeight": "normal", "titleColor": "#231F20", "titlePadding": 18}}, "x2": {"datum": 0}, "y": {"field": "v", "type": "quantitative", "scale": {"domain": [0, 1], "nice": false, "zero": false}, "axis": {"values": [0, 0.2, 0.4, 0.6, 0.8, 1], "format": ".1f", "labelFontSize": 32, "tickSize": 14, "labelPadding": 7, "title": null}}, "color": {"field": "g", "type": "nominal", "scale": {"domain": ["MDCKII COC","HDF COC","MDCKII PDMS","HDF PDMS"], "range": ["#2299B4","#13849B","#FBA443","#F15A29"]}, "legend": null}}},
  {"transform": [{"filter": "datum.k == 'row'"}], "mark": {"type": "rule", "strokeWidth": 6, "strokeDash": [5, 1.5]}, "encoding": {"x": {"field": "n", "type": "quantitative", "scale": {"domain": [-30.88, 30.88], "nice": false, "zero": false, "reverse": true}, "axis": null}, "x2": {"datum": 0}, "y": {"field": "v", "type": "quantitative", "axis": {"title": null}}, "color": {"field": "g", "type": "nominal", "legend": null}}},
  {"transform": [{"filter": "datum.k == 'stat'"}], "mark": {"type": "rule", "strokeWidth": 2, "color": "#000"}, "encoding": {"y": {"field": "lo", "type": "quantitative", "axis": {"title": null}}, "y2": {"field": "hi"}}},
  {"transform": [{"filter": "datum.k == 'stat'"}], "mark": {"type": "tick", "size": 67, "thickness": 2, "color": "#000", "opacity": 1}, "encoding": {"y": {"field": "lo", "type": "quantitative", "axis": {"title": null}}}},
  {"transform": [{"filter": "datum.k == 'stat'"}], "mark": {"type": "tick", "size": 67, "thickness": 2, "color": "#000", "opacity": 1}, "encoding": {"y": {"field": "hi", "type": "quantitative", "axis": {"title": null}}}},
  {"transform": [{"filter": "datum.k == 'stat'"}], "mark": {"type": "tick", "size": 132, "thickness": 6, "color": "#000", "opacity": 1}, "encoding": {"y": {"field": "v", "type": "quantitative", "axis": {"title": null}}}}
  ]},
 {"data": {"name": "R"}, "transform": [{"filter": "datum.g == 'HDF COC'"}], "width": 200.7, "height": 535, "resolve": {"scale": {"x": "independent"}},
  "layer": [
  {"transform": [{"filter": "datum.k == 'row'"}], "mark": {"type": "rule", "strokeWidth": 6, "strokeDash": [5, 3.5]}, "encoding": {"x": {"field": "n", "type": "quantitative", "scale": {"domain": [-23.61, 23.61], "nice": false, "zero": false}, "axis": {"values": [0], "labels": false, "tickSize": 16, "title": "HDF COC", "titleFont": "Open Sans", "titleFontSize": 28, "titleFontWeight": "normal", "titleColor": "#231F20", "titlePadding": 18}}, "x2": {"datum": 0}, "y": {"field": "v", "type": "quantitative", "scale": {"domain": [0, 1], "nice": false, "zero": false}, "axis": null}, "color": {"field": "g", "type": "nominal", "scale": {"domain": ["MDCKII COC","HDF COC","MDCKII PDMS","HDF PDMS"], "range": ["#2299B4","#13849B","#FBA443","#F15A29"]}, "legend": null}}},
  {"transform": [{"filter": "datum.k == 'row'"}], "mark": {"type": "rule", "strokeWidth": 6, "strokeDash": [5, 3.5]}, "encoding": {"x": {"field": "n", "type": "quantitative", "scale": {"domain": [-23.61, 23.61], "nice": false, "zero": false, "reverse": true}, "axis": null}, "x2": {"datum": 0}, "y": {"field": "v", "type": "quantitative", "axis": null}, "color": {"field": "g", "type": "nominal", "legend": null}}},
  {"transform": [{"filter": "datum.k == 'stat'"}], "mark": {"type": "rule", "strokeWidth": 2, "color": "#000"}, "encoding": {"y": {"field": "lo", "type": "quantitative", "axis": null}, "y2": {"field": "hi"}}},
  {"transform": [{"filter": "datum.k == 'stat'"}], "mark": {"type": "tick", "size": 67, "thickness": 2, "color": "#000", "opacity": 1}, "encoding": {"y": {"field": "lo", "type": "quantitative", "axis": null}}},
  {"transform": [{"filter": "datum.k == 'stat'"}], "mark": {"type": "tick", "size": 67, "thickness": 2, "color": "#000", "opacity": 1}, "encoding": {"y": {"field": "hi", "type": "quantitative", "axis": null}}},
  {"transform": [{"filter": "datum.k == 'stat'"}], "mark": {"type": "tick", "size": 132, "thickness": 6, "color": "#000", "opacity": 1}, "encoding": {"y": {"field": "v", "type": "quantitative", "axis": null}}}
  ]},
 {"data": {"name": "R"}, "transform": [{"filter": "datum.g == 'MDCKII PDMS'"}], "width": 200.7, "height": 535, "resolve": {"scale": {"x": "independent"}},
  "layer": [
  {"transform": [{"filter": "datum.k == 'row'"}], "mark": {"type": "rule", "strokeWidth": 6, "strokeDash": [5, 1.5]}, "encoding": {"x": {"field": "n", "type": "quantitative", "scale": {"domain": [-30.88, 30.88], "nice": false, "zero": false}, "axis": {"values": [0], "labels": false, "tickSize": 16, "title": "MDCKII PDMS", "titleFont": "Open Sans", "titleFontSize": 28, "titleFontWeight": "normal", "titleColor": "#231F20", "titlePadding": 18}}, "x2": {"datum": 0}, "y": {"field": "v", "type": "quantitative", "scale": {"domain": [0, 1], "nice": false, "zero": false}, "axis": null}, "color": {"field": "g", "type": "nominal", "scale": {"domain": ["MDCKII COC","HDF COC","MDCKII PDMS","HDF PDMS"], "range": ["#2299B4","#13849B","#FBA443","#F15A29"]}, "legend": null}}},
  {"transform": [{"filter": "datum.k == 'row'"}], "mark": {"type": "rule", "strokeWidth": 6, "strokeDash": [5, 1.5]}, "encoding": {"x": {"field": "n", "type": "quantitative", "scale": {"domain": [-30.88, 30.88], "nice": false, "zero": false, "reverse": true}, "axis": null}, "x2": {"datum": 0}, "y": {"field": "v", "type": "quantitative", "axis": null}, "color": {"field": "g", "type": "nominal", "legend": null}}},
  {"transform": [{"filter": "datum.k == 'stat'"}], "mark": {"type": "rule", "strokeWidth": 2, "color": "#000"}, "encoding": {"y": {"field": "lo", "type": "quantitative", "axis": null}, "y2": {"field": "hi"}}},
  {"transform": [{"filter": "datum.k == 'stat'"}], "mark": {"type": "tick", "size": 67, "thickness": 2, "color": "#000", "opacity": 1}, "encoding": {"y": {"field": "lo", "type": "quantitative", "axis": null}}},
  {"transform": [{"filter": "datum.k == 'stat'"}], "mark": {"type": "tick", "size": 67, "thickness": 2, "color": "#000", "opacity": 1}, "encoding": {"y": {"field": "hi", "type": "quantitative", "axis": null}}},
  {"transform": [{"filter": "datum.k == 'stat'"}], "mark": {"type": "tick", "size": 132, "thickness": 6, "color": "#000", "opacity": 1}, "encoding": {"y": {"field": "v", "type": "quantitative", "axis": null}}}
  ]},
 {"data": {"name": "R"}, "transform": [{"filter": "datum.g == 'HDF PDMS'"}], "width": 184, "height": 535, "resolve": {"scale": {"x": "independent"}},
  "layer": [
  {"transform": [{"filter": "datum.k == 'row'"}], "mark": {"type": "rule", "strokeWidth": 6, "strokeDash": [5, 3.3]}, "encoding": {"x": {"field": "n", "type": "quantitative", "scale": {"domain": [-24.18, 20.16], "nice": false, "zero": false}, "axis": {"values": [0], "labels": false, "tickSize": 16, "title": "HDF PDMS", "titleFont": "Open Sans", "titleFontSize": 28, "titleFontWeight": "normal", "titleColor": "#231F20", "titlePadding": 18, "titleX": 101, "titleAlign": "center"}}, "x2": {"datum": 0}, "y": {"field": "v", "type": "quantitative", "scale": {"domain": [0, 1], "nice": false, "zero": false}, "axis": null}, "color": {"field": "g", "type": "nominal", "scale": {"domain": ["MDCKII COC","HDF COC","MDCKII PDMS","HDF PDMS"], "range": ["#2299B4","#13849B","#FBA443","#F15A29"]}, "legend": null}}},
  {"transform": [{"filter": "datum.k == 'row'"}], "mark": {"type": "rule", "strokeWidth": 6, "strokeDash": [5, 3.3]}, "encoding": {"x": {"field": "n", "type": "quantitative", "scale": {"domain": [-20.16, 24.18], "nice": false, "zero": false, "reverse": true}, "axis": null}, "x2": {"datum": 0}, "y": {"field": "v", "type": "quantitative", "axis": null}, "color": {"field": "g", "type": "nominal", "legend": null}}},
  {"transform": [{"filter": "datum.k == 'stat'"}], "mark": {"type": "rule", "strokeWidth": 2, "color": "#000", "xOffset": 8.35}, "encoding": {"y": {"field": "lo", "type": "quantitative", "axis": null}, "y2": {"field": "hi"}}},
  {"transform": [{"filter": "datum.k == 'stat'"}], "mark": {"type": "tick", "size": 67, "thickness": 2, "color": "#000", "opacity": 1, "xOffset": 8.35}, "encoding": {"y": {"field": "lo", "type": "quantitative", "axis": null}}},
  {"transform": [{"filter": "datum.k == 'stat'"}], "mark": {"type": "tick", "size": 67, "thickness": 2, "color": "#000", "opacity": 1, "xOffset": 8.35}, "encoding": {"y": {"field": "hi", "type": "quantitative", "axis": null}}},
  {"transform": [{"filter": "datum.k == 'stat'"}], "mark": {"type": "tick", "size": 132, "thickness": 6, "color": "#000", "opacity": 1, "xOffset": 8.35}, "encoding": {"y": {"field": "v", "type": "quantitative", "axis": null}}}
  ]}
]
}
